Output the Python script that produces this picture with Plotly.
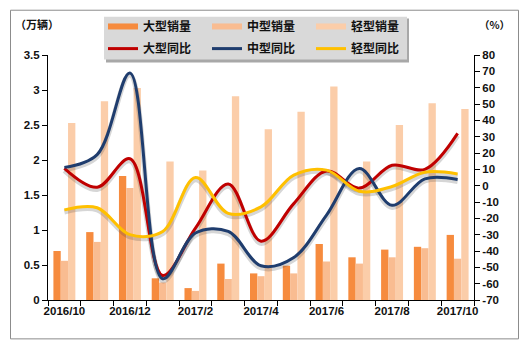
import plotly.graph_objects as go

months = ["2016/10", "2016/11", "2016/12", "2017/1", "2017/2", "2017/3", "2017/4",
          "2017/5", "2017/6", "2017/7", "2017/8", "2017/9", "2017/10"]
month_labels = [m if i % 2 == 0 else "" for i, m in enumerate(months)]

large_sales = [0.70, 0.97, 1.77, 0.31, 0.17, 0.52, 0.38, 0.49, 0.80, 0.61, 0.72, 0.76, 0.93]
medium_sales = [0.56, 0.83, 1.60, 0.25, 0.13, 0.30, 0.34, 0.38, 0.55, 0.52, 0.61, 0.74, 0.59]
light_sales = [2.53, 2.84, 3.03, 1.98, 1.85, 2.91, 2.44, 2.69, 3.05, 1.98, 2.50, 2.81, 2.73]

large_yoy = [10.6, -1.0, 16.5, -55.0, -26.0, 1.0, -34.0, -11.0, 9.0, -1.5, 12.5, 10.0, 32.0]
medium_yoy = [11.2, 19.0, 69.0, -57.0, -29.0, -28.0, -49.0, -44.0, -18.0, 10.5, -12.0, 4.2, 3.8]
light_yoy = [-14.8, -13.5, -30.0, -28.0, 5.0, -17.0, -13.0, 6.5, 9.5, -3.4, -0.5, 8.2, 7.2]

left_ticks = [0, 0.5, 1, 1.5, 2, 2.5, 3, 3.5]
left_ticktext = ["0", "0.5", "1", "1.5", "2", "2.5", "3", "3.5"]
right_ticks = list(range(-70, 81, 10))
right_ticktext = [str(v) for v in right_ticks]

bar_names = ["大型销量", "中型销量", "轻型销量"]
line_names = ["大型同比", "中型同比", "轻型同比"]
bar_colors = ["#F68B3E", "#F9BC91", "#FBCDA9"]
line_colors = ["#C00000", "#1F3D6E", "#FFC000"]

W, H = 527, 352
ML, MR, MT, MB = 48, 53, 51, 52
PW, PH = W - ML - MR, H - MT - MB
RIGHT_RANGE = [-70, 80]
SHADOW_PX = 2.2
shadow_shift = SHADOW_PX * (RIGHT_RANGE[1] - RIGHT_RANGE[0]) / PH


def px(x):
    return (x - ML) / PW


def py(y):
    return (H - MB - y) / PH


num_font = dict(family="Liberation Sans, Arial", size=11.5, color="#111", weight="bold")
cjk_font = dict(family="Noto Sans CJK SC", size=12, color="#111", weight="bold")

fig = go.Figure()

for name, vals, col in zip(bar_names, [large_sales, medium_sales, light_sales], bar_colors):
    fig.add_trace(go.Bar(x=months, y=vals, name=name, marker=dict(color=col, line=dict(width=0)),
                         showlegend=False, legendgroup=name, yaxis="y"))
    fig.add_trace(go.Scatter(x=[None], y=[None], mode="lines", name=name, legendgroup=name,
                             line=dict(color=col, width=6), legend="legend"))

# soft drop shadows of the lines (drawn on an invisible, slightly shifted copy of the right axis)
for name, vals in zip(line_names, [large_yoy, medium_yoy, light_yoy]):
    fig.add_trace(go.Scatter(x=months, y=vals, mode="lines", yaxis="y2", showlegend=False,
                             hoverinfo="skip", legendgroup=name,
                             line=dict(color="rgba(70,70,70,0.22)", width=5, shape="spline", smoothing=1.0)))

for name, vals, col in zip(line_names, [large_yoy, medium_yoy, light_yoy], line_colors):
    fig.add_trace(go.Scatter(x=months, y=vals, name=name, mode="lines", yaxis="y3", legendgroup=name,
                             line=dict(color=col, width=3, shape="spline", smoothing=1.0),
                             legend="legend2"))

shapes = [
    # legend shadow + background
    dict(type="rect", xref="paper", yref="paper", x0=px(106), x1=px(409), y0=py(58.5), y1=py(14),
         fillcolor="#A8A8A8", line=dict(width=0), layer="above"),
    dict(type="rect", xref="paper", yref="paper", x0=px(104), x1=px(407), y0=py(55.5), y1=py(12),
         fillcolor="#D9D9D9", line=dict(width=0), layer="above"),
    # outer frame
    dict(type="rect", xref="paper", yref="paper", x0=px(10.5), x1=px(518.5), y0=py(339.5), y1=py(5.5),
         fillcolor="rgba(0,0,0,0)", line=dict(color="#8C8C8C", width=1), layer="above"),
]

annotations = [
    dict(text="（万辆）", xref="paper", yref="paper", x=px(37), y=py(20), showarrow=False,
         xanchor="center", yanchor="middle", font=dict(family="Noto Sans CJK SC", size=11, color="#111", weight="bold")),
    dict(text="（%）", xref="paper", yref="paper", x=px(494), y=py(20), showarrow=False,
         xanchor="center", yanchor="middle", font=dict(family="Noto Sans CJK SC", size=10.5, color="#111", weight="bold")),
]

legend_common = dict(orientation="h", xanchor="left", yanchor="middle", bgcolor="rgba(0,0,0,0)",
                     borderwidth=0, font=cjk_font, entrywidth=59, entrywidthmode="pixels",
                     itemwidth=30, tracegroupgap=0, itemclick=False, itemdoubleclick=False)

fig.update_layout(
    width=W, height=H,
    margin=dict(l=ML, r=MR, t=MT, b=MB, pad=0),
    paper_bgcolor="white", plot_bgcolor="rgba(0,0,0,0)",
    barmode="group", bargap=0.33, bargroupgap=0,
    showlegend=True,
    legend=dict(x=px(103), y=py(22), **legend_common),
    legend2=dict(x=px(103), y=py(44.5), **legend_common),
    xaxis=dict(type="category", categoryorder="array", categoryarray=months,
               range=[-0.5, len(months) - 0.5],
               tickmode="array", tickvals=months, ticktext=month_labels, tickson="boundaries",
               tickangle=0,
               ticks="outside", ticklen=5, tickcolor="black", showline=True, linecolor="black",
               linewidth=1, showgrid=False, tickfont=num_font, zeroline=False),
    yaxis=dict(range=[0, 3.5], tickmode="array", tickvals=left_ticks, ticktext=left_ticktext,
               ticks="outside", ticklen=5, tickcolor="black", showline=True, linecolor="black",
               linewidth=1, showgrid=False, zeroline=False, tickfont=num_font),
    yaxis2=dict(range=[RIGHT_RANGE[0] + shadow_shift, RIGHT_RANGE[1] + shadow_shift],
                overlaying="y", side="right", visible=False, showgrid=False, zeroline=False),
    yaxis3=dict(range=RIGHT_RANGE, overlaying="y", side="right", tickmode="array",
                tickvals=right_ticks, ticktext=right_ticktext, ticks="outside", ticklen=5,
                tickcolor="black", showline=True, linecolor="black", linewidth=1,
                showgrid=False, zeroline=False, tickfont=num_font),
    shapes=shapes,
    annotations=annotations,
)

fig.write_html("out.html")
